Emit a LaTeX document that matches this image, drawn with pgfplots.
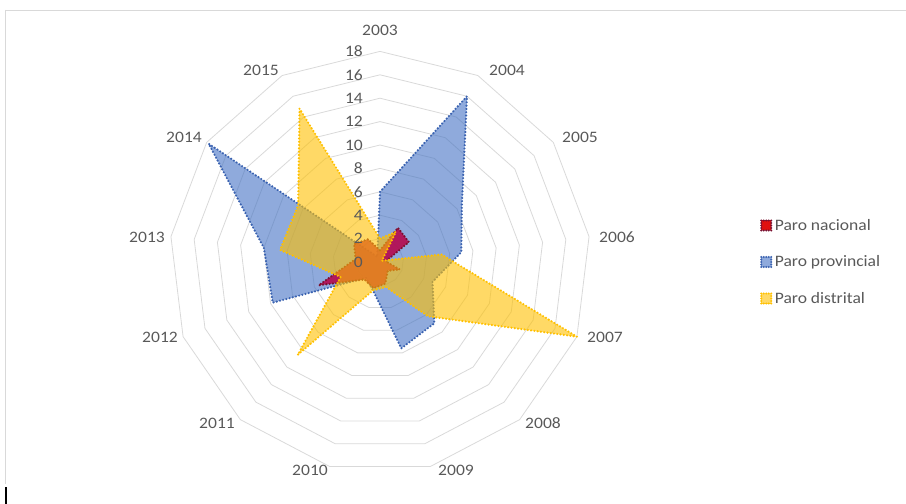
\documentclass[border=0pt]{standalone}
\usepackage{pgfplots}
\pgfplotsset{compat=1.18}
\usepackage{pgfplotstable}
\usepgfplotslibrary{polar}
\usepackage{fontspec}
\setmainfont{Carlito}[FakeStretch=1.1]
\definecolor{tickgray}{HTML}{595959}
\definecolor{gridgray}{HTML}{D9D9D9}
\definecolor{cred}{HTML}{B80046}
\definecolor{credlegend}{HTML}{E01010}
\definecolor{credline}{HTML}{7A1030}
\definecolor{cblue}{HTML}{4472C4}
\definecolor{cblueline}{HTML}{3A62B0}
\definecolor{cyellow}{HTML}{FFC000}

\pgfplotstableread{
year angle nac prov dist
2003 90 1.0 6.0 2.0
2004 62.308 3.3 16.0 2.9
2005 34.615 3.0 8.5 0.2
2006 6.923 0.5 7.0 5.3
2007 339.231 1.8 4.8 18.0
2008 311.538 1.0 7.0 6.2
2009 283.846 1.9 7.6 2.2
2010 256.154 2.3 2.5 2.5
2011 228.462 2.0 1.8 10.6
2012 200.769 5.6 9.8 3.6
2013 173.077 2.1 10.0 8.6
2014 145.385 2.7 17.8 8.5
2015 117.692 2.2 0.5 14.8
2003 450 1.0 6.0 2.0
}\datatable

\begin{document}
\begin{tikzpicture}
\path[use as bounding box] (0,0) rectangle (906bp,504bp);
\draw[gridgray, line width=0.8bp] (5bp,494bp) -- (906bp,494bp);
\draw[gridgray, line width=0.8bp] (5bp,494bp) -- (5bp,20bp);
\draw[black, line width=1.6bp] (6bp,0bp) -- (6bp,17bp);
\begin{polaraxis}[
  at={(380bp,242bp)}, anchor=center,
  width=421.2bp, height=421.2bp, scale only axis,
  ymin=0, ymax=18,
  xtick=\empty, ytick=\empty,
  axis line style={draw=none},
  clip=false,
  legend cell align=left,
  legend style={at={(1.402,0.5)}, anchor=west, draw=none, fill=none,
    text=tickgray, font=\fontsize{16}{19}\selectfont, row sep=19bp,
    inner sep=0pt, nodes={inner sep=2.5bp}},
  legend image code/.code={\draw[#1, line width=2.2bp, dash pattern=on 0pt off 2.5bp, line cap=round] (0bp,-5bp) rectangle (10bp,5bp);},
]
\pgfplotsinvokeforeach{2,4,...,18}{
  \addplot[gridgray, line width=0.8bp, no marks, forget plot] coordinates {
    (90,#1) (62.308,#1) (34.615,#1) (6.923,#1) (339.231,#1) (311.538,#1)
    (283.846,#1) (256.154,#1) (228.462,#1) (200.769,#1) (173.077,#1)
    (145.385,#1) (117.692,#1) (450,#1)};
}
\addplot[no marks, fill=cblue, fill opacity=0.6, draw=cblueline,
  line width=2.4bp, dash pattern=on 0pt off 3.3bp, line cap=round, forget plot]
  table[x=angle, y=prov] \datatable;
\addplot[no marks, fill=cred, fill opacity=0.85, draw=credline,
  line width=2.4bp, dash pattern=on 0pt off 3.3bp, line cap=round, forget plot]
  table[x=angle, y=nac] \datatable;
\addplot[no marks, fill=cyellow, fill opacity=0.6, draw=cyellow,
  line width=2.4bp, dash pattern=on 0pt off 3.3bp, line cap=round, forget plot]
  table[x=angle, y=dist] \datatable;
\addlegendimage{fill=credlegend, draw=credline}
\addlegendentry{Paro nacional}
\addlegendimage{fill=cblue, fill opacity=0.6, draw=cblueline}
\addlegendentry{Paro provincial}
\addlegendimage{fill=cyellow, fill opacity=0.6, draw=cyellow}
\addlegendentry{Paro distrital}
\pgfplotsinvokeforeach{0,2,...,18}{
  \node[anchor=east, inner sep=0pt, text=tickgray, font=\fontsize{16}{19}\selectfont]
    at (axis cs:90,#1) [xshift=-17bp] {#1};
}
\end{polaraxis}
\begin{scope}[every node/.style={text=tickgray, font=\fontsize{16}{19}\selectfont, inner sep=0pt, anchor=center}]
\node at (380bp,474bp) {2003};
\node at (507bp,434bp) {2004};
\node at (580bp,367bp) {2005};
\node at (617bp,267bp) {2006};
\node at (605bp,167bp) {2007};
\node at (543bp,81bp) {2008};
\node at (456bp,34bp) {2009};
\node at (310bp,34bp) {2010};
\node at (217bp,81bp) {2011};
\node at (160bp,167bp) {2012};
\node at (147bp,267bp) {2013};
\node at (184bp,367bp) {2014};
\node at (261bp,434bp) {2015};
\end{scope}
\end{tikzpicture}
\end{document}
